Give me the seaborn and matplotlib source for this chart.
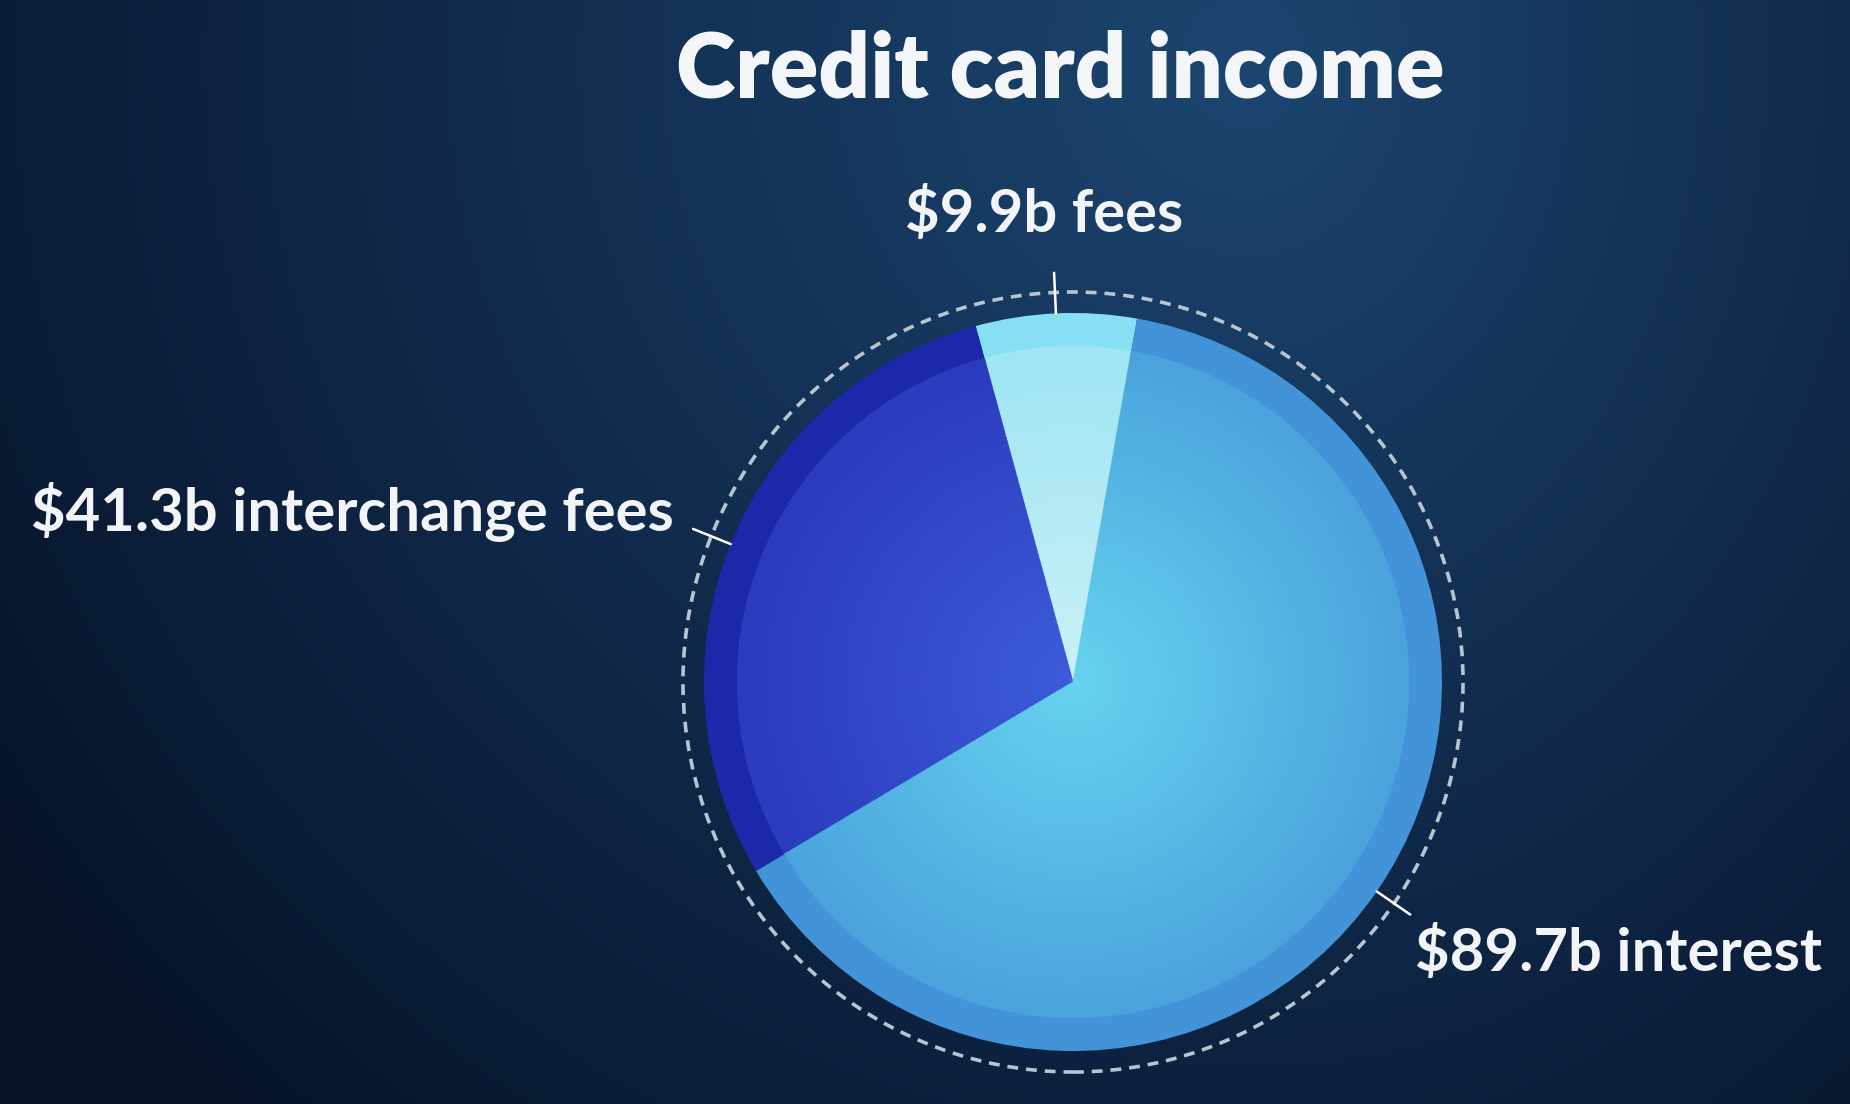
import numpy as np
import matplotlib
matplotlib.use('Agg')
import matplotlib.pyplot as plt
import seaborn as sns
from matplotlib.colors import LinearSegmentedColormap
from matplotlib.patches import Circle

# Datos del gráfico
categorias = ['fees', 'interchange fees', 'interest']
valores = [9.9, 41.3, 89.7]
etiquetas = ['$9.9b fees', '$41.3b interchange fees', '$89.7b interest']
titulo = 'Credit card income'

# Colores de cada porción: borde, zona exterior y centro (degradado radial)
colores_borde = ['#86dff2', '#1b28a9', '#4393d9']
colores_fuera = ['#9fe5f3', '#2a3bbd', '#4aa3dc']
colores_centro = ['#c9f1f8', '#3c5cd9', '#66d2ef']

sns.set_theme(style='white')
plt.rcParams['font.family'] = ['Lato', 'DejaVu Sans']

W, H = 1850, 1104
centro = (1073, H - 682)
R = 369

fig = plt.figure(figsize=(W / 100, H / 100), dpi=100)
ax = fig.add_axes([0, 0, 1, 1])

# Fondo azul oscuro con degradado
yy, xx = np.mgrid[0:H, 0:W]
rx = np.where(xx > 1250, 1000, 1300)
d = np.sqrt(((xx - 1250) / rx) ** 2 + ((yy - 60) / 1250) ** 2)
cmap_fondo = LinearSegmentedColormap.from_list(
    'fondo', [(0, '#1c4670'), (0.35, '#143358'), (0.7, '#0d2240'), (1, '#07142a')])
ax.imshow(d, cmap=cmap_fondo, vmin=0, vmax=1.15, extent=(0, W, 0, H), origin='upper', zorder=0)

# Pastel: primero el borde, luego capas con degradado hacia el centro
wedges, _ = ax.pie(valores, radius=R, center=centro, startangle=80, colors=colores_borde,
                   wedgeprops=dict(linewidth=0))

n_capas = 50
paletas = [sns.blend_palette([c1, c2], n_capas) for c1, c2 in zip(colores_fuera, colores_centro)]
r_int = 0.91 * R
for i in range(n_capas):
    r = r_int * (1 - i / n_capas)
    capa, _ = ax.pie(valores, radius=r, center=centro, startangle=80,
                     colors=[p[i] for p in paletas], wedgeprops=dict(linewidth=0.6))
    for w in capa:
        w.set_edgecolor(w.get_facecolor())

# Circulo punteado alrededor
ax.add_patch(Circle(centro, R * 1.057, fill=False, edgecolor='#b8c4d0', linewidth=2.6,
                    linestyle=(0, (3.0, 2.2)), zorder=3))

# Marcas de cada porción
for w in wedges:
    ang = np.deg2rad((w.theta1 + w.theta2) / 2)
    xs = [centro[0] + R * np.cos(ang), centro[0] + R * 1.11 * np.cos(ang)]
    ys = [centro[1] + R * np.sin(ang), centro[1] + R * 1.11 * np.sin(ang)]
    ax.plot(xs, ys, color='white', linewidth=1.8, zorder=4)

# Etiquetas
estilo = dict(color='#f2f4f8', fontsize=43, fontweight='bold', parse_math=False, va='baseline')
ax.text(1044, H - 232, etiquetas[0], ha='center', **estilo)
ax.text(674, H - 531, etiquetas[1], ha='right', **estilo)
ax.text(1415, H - 971, etiquetas[2], ha='left', **estilo)

ax.text(1060, H - 98, titulo, ha='center', va='baseline', color='#f4f6fa',
        fontsize=65, fontweight='heavy')

ax.set_xlim(0, W)
ax.set_ylim(0, H)
ax.set_aspect('equal')
ax.axis('off')

plt.savefig('out.png', dpi=100)
